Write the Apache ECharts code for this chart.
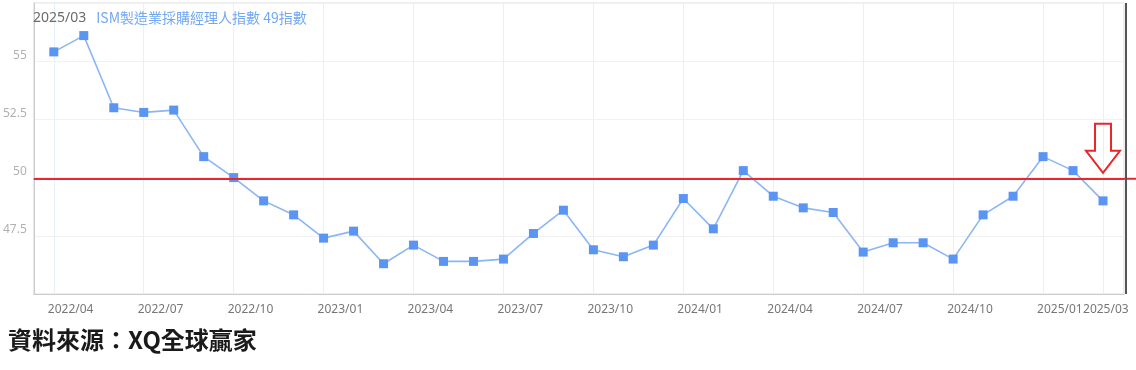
<!DOCTYPE html>
<html><head><meta charset="utf-8">
<script src="https://cdn.jsdelivr.net/npm/echarts@6/dist/echarts.min.js"></script>
<style>html,body{margin:0;padding:0;background:#fff}#c{width:1136px;height:370px}</style>
</head><body><div id="c"></div>
<script>
const months = ['2022/04','2022/05','2022/06','2022/07','2022/08','2022/09','2022/10','2022/11','2022/12',
  '2023/01','2023/02','2023/03','2023/04','2023/05','2023/06','2023/07','2023/08','2023/09','2023/10','2023/11','2023/12',
  '2024/01','2024/02','2024/03','2024/04','2024/05','2024/06','2024/07','2024/08','2024/09','2024/10','2024/11','2024/12',
  '2025/01','2025/02','2025/03'];
const pmiValues = [55.4,56.1,53.0,52.8,52.9,50.9,50.0,49.0,48.4,
  47.4,47.7,46.3,47.1,46.4,46.4,46.5,47.6,48.6,46.9,46.6,47.1,
  49.1,47.8,50.3,49.2,48.7,48.5,46.8,47.2,47.2,46.5,48.4,49.2,
  50.9,50.3,49.0];
const tickIdx = [0,3,6,9,12,15,18,21,24,27,30,33,35];
const threshold = 50;
const titleDate = '2025/03';
const titleText = 'ISM製造業採購經理人指數 49指數';
const sourceText = '資料來源：XQ全球贏家';

const xMin = -0.667, xMax = 35.7;
// label anchor positions: slightly left of each tick, last one kept inside the frame
const labelPos = tickIdx.map((i,k)=> k===tickIdx.length-1 ? i-0.667 : i-0.2);
function labelFor(v){
  let best=0, d=1e9;
  labelPos.forEach((p,k)=>{ if(Math.abs(p-v)<d){d=Math.abs(p-v);best=k;} });
  return months[tickIdx[best]];
}

const chart = echarts.init(document.getElementById('c'), null, {renderer:'canvas'});
const sourceGraphic = {type:'text',left:8,top:328,style:{text:sourceText,fill:'#1a1a1a',font:'bold 24px "Noto Sans CJK TC"'}};
chart.setOption({
  animation:false,
  backgroundColor:'#fff',
  title:{
    left:28, top:4,
    text:'{a|'+titleDate+'}  {b|'+titleText+'}',
    textStyle:{fontWeight:'normal',rich:{
      a:{color:'#6b6b6b',fontSize:14,fontWeight:'normal',fontFamily:'Noto Sans'},
      b:{color:'#72a8f3',fontSize:14,fontWeight:'normal',fontFamily:'Noto Sans CJK TC'}
    }}
  },
  grid:{left:32,right:12,top:3,bottom:76,show:true,borderColor:'#dddddd',borderWidth:1},
  xAxis:{
    type:'value', min:xMin, max:xMax,
    axisLine:{show:true,onZero:false,lineStyle:{color:'#cccccc'}},
    axisTick:{show:false,customValues:tickIdx},
    axisLabel:{customValues:labelPos,align:'left',color:'#777',fontSize:12,fontFamily:'Noto Sans',margin:10,
      hideOverlap:false,showMinLabel:true,showMaxLabel:true,formatter:labelFor},
    splitLine:{show:true,lineStyle:{color:'#e4f0fa',width:1}}
  },
  yAxis:{
    type:'value', min:45, max:57.5, interval:2.5,
    axisLine:{show:true,onZero:false,lineStyle:{color:'#cccccc'}},
    axisTick:{show:false},
    axisLabel:{showMinLabel:false,showMaxLabel:false,color:'#b0b0b0',fontSize:12,fontFamily:'Noto Sans',margin:7,verticalAlign:'bottom'},
    splitLine:{show:true,lineStyle:{color:'#f1f1f1'}}
  },
  series:[{
    type:'line',
    data:pmiValues.map((v,i)=>[i,v]),
    symbol:'rect', symbolSize:9,
    lineStyle:{color:'#8ab6f6',width:1.6},
    itemStyle:{color:'#5b95f3'},
    markLine:{
      silent:true, symbol:'none', label:{show:false},
      lineStyle:{color:'#e8262b',width:2,type:'solid'},
      data:[{yAxis:49.95}]
    }
  }],
  graphic:[sourceGraphic]
});

// annotation arrow above last point and frame edge
const n = pmiValues.length-1;
const ax = chart.convertToPixel({gridIndex:0},[n, pmiValues[n]])[0];
const topPx = chart.convertToPixel({gridIndex:0},[0,57.5])[1];
const botPx = chart.convertToPixel({gridIndex:0},[0,45])[1];
const rightPx = chart.convertToPixel({gridIndex:0},[xMax,45])[0];
const y50 = chart.convertToPixel({gridIndex:0},[0,49.95])[1];
chart.setOption({graphic:[
  sourceGraphic,
  {type:'polygon',shape:{points:[[ax-8,y50-55],[ax+8,y50-55],[ax+8,y50-28],[ax+17,y50-28],[ax,y50-6],[ax-17,y50-28],[ax-8,y50-28]]},
   style:{fill:'rgba(255,255,255,0)',stroke:'#e8262b',lineWidth:2},z:10},
  {type:'line',shape:{x1:rightPx+2,y1:topPx,x2:rightPx+2,y2:botPx},style:{stroke:'#555',lineWidth:2},z:10},
  {type:'line',shape:{x1:rightPx,y1:y50,x2:1136,y2:y50},style:{stroke:'#e8262b',lineWidth:2},z:9}
]});
</script></body></html>
